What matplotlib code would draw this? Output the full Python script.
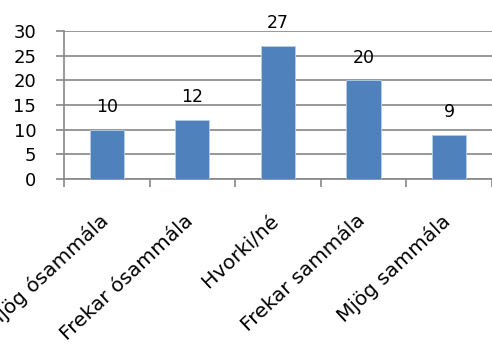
import matplotlib.pyplot as plt
import matplotlib.transforms as mtransforms

categories = ['Mjög ósammála', 'Frekar ósammála', 'Hvorki/né', 'Frekar sammála', 'Mjög sammála']
counts = [10, 12, 27, 20, 9]

plt.rcParams['font.family'] = ['DejaVu Sans']

fig = plt.figure(figsize=(4.92, 3.54), dpi=100)
ax = fig.add_axes([0.13, 0.494, 0.87, 0.418])

x = list(range(len(categories)))
bars = ax.bar(x, counts, width=0.4, color='#4F81BD', edgecolor='#B9CDE5', linewidth=0.6, zorder=3)

for xi, v in zip(x, counts):
    ax.annotate(str(v), (xi, v), xytext=(0, 10), textcoords='offset points',
                ha='center', va='bottom', fontsize=12.5, color='black')

ax.set_xlim(-0.5, len(categories) - 0.5)
ax.set_ylim(0, 30)
ax.set_yticks(range(0, 31, 5))
ax.yaxis.grid(True, color='#868686', linewidth=1.2, zorder=0)
ax.set_axisbelow(True)

for side in ['top', 'right']:
    ax.spines[side].set_visible(False)
ax.spines['left'].set_color('#868686')
ax.spines['bottom'].set_color('#868686')
ax.spines['left'].set_linewidth(1.2)
ax.spines['bottom'].set_linewidth(1.2)

# ticks at category boundaries
ax.set_xticks([i - 0.5 for i in range(len(categories) + 1)])
ax.set_xticklabels([])
ax.set_xticks(x, minor=True)
ax.set_xticklabels(categories, minor=True, rotation=43, ha='right', va='top',
                   rotation_mode='anchor', fontsize=14.5)
ax.tick_params(axis='x', which='major', direction='out', length=6, color='#868686', width=1.2)
ax.tick_params(axis='x', which='minor', length=0, pad=23)
ax.tick_params(axis='y', direction='out', length=6, color='#868686', width=1.2, labelsize=13, pad=14)

offset = mtransforms.ScaledTranslation(-8 / 100, 0, fig.dpi_scale_trans)
for lab in ax.get_xticklabels(minor=True):
    lab.set_transform(lab.get_transform() + offset)

fig.savefig('out.png', dpi=100)
